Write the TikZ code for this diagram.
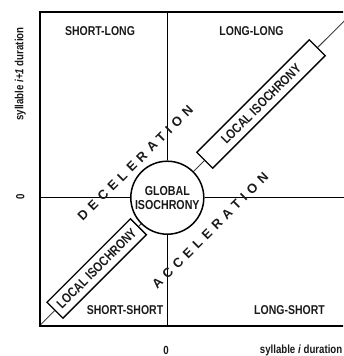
\documentclass[tikz,border=0pt]{standalone}
\usepackage{fontspec}
\setmainfont{Liberation Sans}
\newfontfamily\narrowsans[FakeStretch=0.82]{Liberation Sans}
\newfontfamily\spacedsans[LetterSpace=39]{Liberation Sans}
\pgfdeclarelayer{background}
\pgfsetlayers{background,main}
\begin{document}
\begin{tikzpicture}[x=1pt,y=-1pt,
  corner/.style={font=\narrowsans\bfseries\fontsize{12.8}{14}\selectfont, inner sep=0, text=black!90},
  axislbl/.style={font=\narrowsans\bfseries\fontsize{11.8}{14}\selectfont, inner sep=0, text=black!90},
  spaced/.style={font=\spacedsans\bfseries\fontsize{13}{15}\selectfont, inner sep=0, rotate=45, text=black!90},
  isobox/.style={draw, line width=1.3pt, fill=white, rotate=45, minimum height=22.5, inner sep=0,
    font=\narrowsans\bfseries\fontsize{13.3}{15}\selectfont, text=black!90},
  frameline/.style={line width=2pt},
  axisline/.style={line width=1pt},
  diag/.style={line width=0.9pt, black!75}
]
\useasboundingbox (0,0) rectangle (343,356);
\clip (0,0) rectangle (343,356);
% coordinates
\coordinate (tl) at (39.5,11.7);
\coordinate (tr) at (350,11.7);
\coordinate (bl) at (39.5,325.7);
\coordinate (br) at (350,325.7);
\coordinate (vtop) at (167.3,11.7);
\coordinate (vbot) at (167.3,325.7);
\coordinate (hleft) at (39.5,197.7);
\coordinate (hright) at (350,197.7);
\coordinate (dend) at (359.5,5.7);
% nodes
\node[circle, draw, line width=1.5pt, fill=white, minimum size=73, inner sep=0, align=center,
  font=\narrowsans\bfseries\fontsize{13}{14}\selectfont, text=black!90] (glob) at (167.3,197.7) {GLOBAL\\ISOCHRONY};
\node[isobox, minimum width=159] (upbox) at (261,104) {LOCAL ISOCHRONY};
\node[isobox, minimum width=118] (lowbox) at (96.7,268.5) {LOCAL ISOCHRONY};
% lines behind the nodes
\begin{pgfonlayer}{background}
\draw[axisline] (vtop) -- (glob);
\draw[axisline] (glob) -- (vbot);
\draw[axisline] (hleft) -- (glob);
\draw[axisline] (glob) -- (hright);
\draw[diag] (bl) -- (lowbox);
\draw[diag] (lowbox) -- (glob);
\draw[diag] (glob) -- (upbox);
\draw[diag] (upbox) -- (dend);
\end{pgfonlayer}
\draw[frameline] (tr) -- (tl) -- (bl) -- (br);
% corner labels
\node[corner] (sl) at (100,31.5) {SHORT-LONG};
\node[corner] (ll) at (251.5,31.5) {LONG-LONG};
\node[corner] (ss) at (125,310) {SHORT-SHORT};
\node[corner] (ls) at (289.5,310) {LONG-SHORT};
% spaced labels
\node[spaced] (dec) at (135.3,163.1) {DECELERATION};
\node[spaced] (acc) at (210.2,230.7) {ACCELERATION};
% axes
\node[axislbl, rotate=90] (ylab) at (20.3,74) {syllable \textit{i+1} duration};
\node[axislbl, rotate=90] (y0) at (20.3,196.5) {0};
\node[axislbl] (x0) at (166,350) {0};
\node[axislbl, anchor=east] (xlab) at (342.5,350) {syllable \textit{i} duration};
\end{tikzpicture}
\end{document}
